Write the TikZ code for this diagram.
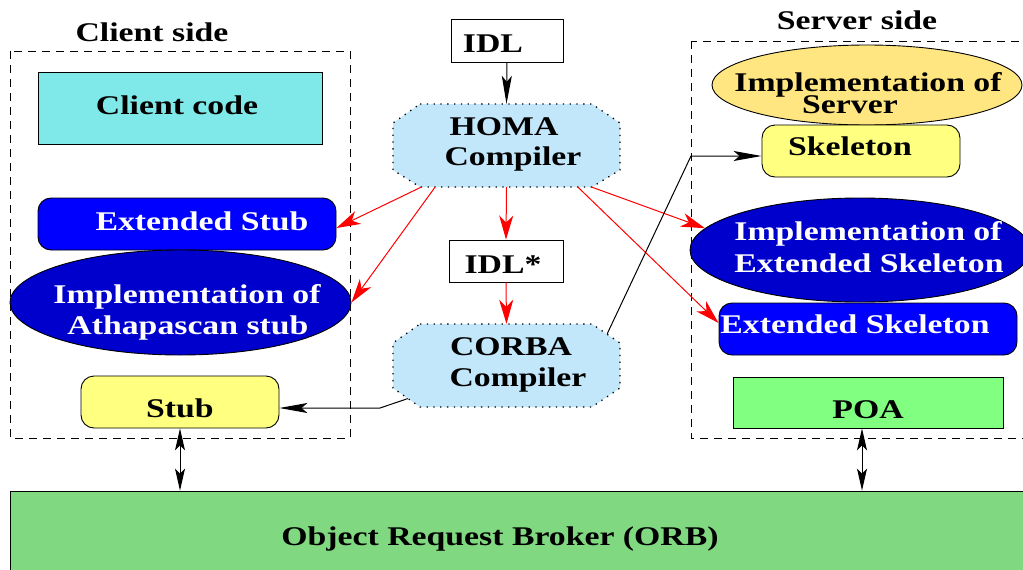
\documentclass[tikz,border=0pt]{standalone}
\usepackage{fontspec}
\usetikzlibrary{arrows.meta,shapes.geometric}
\newfontfamily\figfont{Liberation Serif}[FakeStretch=1.25]
\definecolor{ccyan}{RGB}{127,232,232}
\definecolor{dblue}{RGB}{0,0,204}
\definecolor{pblue}{RGB}{0,0,255}
\definecolor{lyel}{RGB}{255,255,128}
\definecolor{gold}{RGB}{255,230,128}
\definecolor{lgreen}{RGB}{128,255,128}
\definecolor{orbgreen}{RGB}{128,216,128}
\definecolor{compblue}{RGB}{194,230,250}
\tikzset{
 txt/.style={font=\figfont\bfseries\fontsize{27}{31}\selectfont, inner sep=0pt, anchor=base},
 wtxt/.style={txt, text=white},
 frame/.style={draw, dash pattern=on 8pt off 6pt, line width=0.9pt},
 box/.style={draw, line width=0.9pt, inner sep=0pt},
 rbox/.style={box, rounded corners=13pt},
 oval/.style={draw, ellipse, line width=0.9pt, inner sep=0pt},
 comp/.style={fill=compblue, draw, line width=1.3pt, dash pattern=on 1.3pt off 5.5pt},
 redarr/.style={draw=red, line width=1pt, -{Stealth[length=24pt,width=14pt,inset=7pt]}},
 blkarr/.style={draw=black, line width=1pt, -{Stealth[length=28pt,width=10pt,inset=6pt]}},
 dblarr/.style={draw=black, line width=1pt, {Stealth[length=22pt,width=10pt,inset=5pt]}-{Stealth[length=22pt,width=10pt,inset=5pt]}},
}
\begin{document}
\begin{tikzpicture}[x=1pt,y=-1pt]
\useasboundingbox (0,0) rectangle (1023,570);
% frames
\draw[frame] (10,51) rectangle (350,438);
\draw[frame] (691,41) rectangle (1060,438);
\node[txt] (clientside) at (152,41) {Client side};
\node[txt] (serverside) at (857,29) {Server side};
% client side
\node[box, fill=ccyan, minimum width=284pt, minimum height=72pt] (clientcode) at (180,108) {};
\node[txt] (clientcodet) at (177,114) {Client code};
\node[rbox, fill=pblue, minimum width=298pt, minimum height=52pt] (extstub) at (187,224) {};
\node[wtxt] (extstubt) at (202,230) {Extended Stub};
\node[oval, fill=dblue, minimum width=341pt, minimum height=105pt] (athap) at (180.5,302.5) {};
\node[wtxt] (athapt1) at (187,303) {Implementation of};
\node[wtxt] (athapt2) at (188,334) {Athapascan stub};
\node[rbox, fill=lyel, minimum width=198pt, minimum height=52pt] (stub) at (180,402) {};
\node[txt] (stubt) at (180,417) {Stub};
% middle
\node[box, fill=white, minimum width=112pt, minimum height=43pt] (idl) at (507,40.5) {};
\node[txt] (idlt) at (493,52) {IDL};
\draw[comp] (420,104) -- (592,104) -- (620,123) -- (620,170) -- (592,187) -- (420,187) -- (393,170) -- (393,123) -- cycle;
\node[minimum width=227pt, minimum height=83pt, inner sep=0pt] (homa) at (506.5,145.5) {};
\node[txt] (homat1) at (504,135) {HOMA};
\node[txt] (homat2) at (513,165) {Compiler};
\node[box, fill=white, minimum width=114pt, minimum height=42pt] (idlstar) at (506,261) {};
\node[txt] (idlstart) at (503,273) {IDL*};
\draw[comp] (420,324) -- (592,324) -- (620,343) -- (620,388) -- (592,407) -- (420,407) -- (393,388) -- (393,343) -- cycle;
\node[minimum width=227pt, minimum height=83pt, inner sep=0pt] (corba) at (506.5,365.5) {};
\node[txt] (corbat1) at (511,355) {CORBA};
\node[txt] (corbat2) at (518,386) {Compiler};
% server side
\node[oval, fill=gold, minimum width=310pt, minimum height=80pt] (implserv) at (867,85) {};
\node[txt] (implservt1) at (868,91) {Implementation of};
\node[txt] (implservt2) at (850,113) {Server};
\node[rbox, fill=lyel, minimum width=198pt, minimum height=52pt] (skel) at (861,151) {};
\node[txt] (skelt) at (850,155) {Skeleton};
\node[oval, fill=dblue, minimum width=340pt, minimum height=104pt] (implext) at (860,250) {};
\node[wtxt] (implextt1) at (868,240) {Implementation of};
\node[wtxt] (implextt2) at (869,272) {Extended Skeleton};
\node[rbox, fill=pblue, minimum width=298pt, minimum height=52pt] (extskel) at (868,329) {};
\node[wtxt] (extskelt) at (855,333) {Extended Skeleton};
\node[box, fill=lgreen, minimum width=270pt, minimum height=51pt] (poa) at (868,402.5) {};
\node[txt] (poat) at (868,418) {POA};
% ORB
\node[box, fill=orbgreen, minimum width=1060pt, minimum height=109pt] (orb) at (540,545.5) {};
\node[txt] (orbt) at (500,545) {Object Request Broker (ORB)};
% connectors
\draw[blkarr] (idl.south) -- (homa.north);
\draw[redarr] (homa.south) -- (idlstar.north);
\draw[redarr] (idlstar.south) -- (corba.north);
\draw[redarr] ([xshift=-85.5pt]homa.south) -- ([yshift=-4pt]extstub.east);
\draw[redarr] ([xshift=-71.5pt]homa.south) -- (athap.east);
\draw[redarr] ([xshift=85.5pt]homa.south) -- (implext.172);
\draw[redarr] ([xshift=71.5pt]homa.south) -- ([yshift=6pt]extskel.west);
\draw[blkarr] ([xshift=15pt,yshift=8.6pt]corba.south west) -- (380,408) -- ([yshift=-6pt]stub.east);
\draw[blkarr] ([xshift=-13pt,yshift=-10pt]corba.north east) -- (691,156) -- ([yshift=-5pt]skel.west);
\draw[dblarr] (stub.south) -- (stub.south |- orb.north);
\draw[dblarr] ([xshift=-6pt]poa.south) -- ([xshift=-6pt]poa.south |- orb.north);
\end{tikzpicture}
\end{document}
